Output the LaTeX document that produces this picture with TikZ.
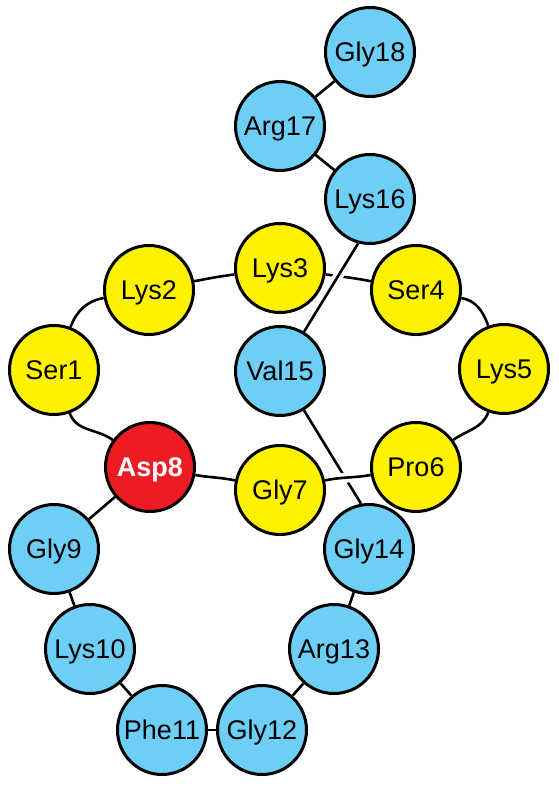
\documentclass[tikz,border=0pt]{standalone}
\usepackage{fontspec}
\setmainfont{Liberation Sans}
\usetikzlibrary{backgrounds}
\definecolor{aacyan}{HTML}{6DCFF6}
\definecolor{aayellow}{HTML}{FFF200}
\definecolor{aared}{HTML}{ED1C24}
\begin{document}
\begin{tikzpicture}[x=1pt,y=1pt,
  res/.style={circle, draw=black, line width=3pt, minimum size=89pt, inner sep=0pt,
    font=\fontsize{27}{27}\selectfont, text height=19.5pt, text depth=0pt},
  bl/.style={res, fill=aacyan},
  yl/.style={res, fill=aayellow},
  rd/.style={res, fill=aared, text=white, font=\fontsize{27}{27}\selectfont\bfseries},
  link/.style={line width=2.6pt, draw=black},
  halo/.style={preaction={draw=white, line width=10pt}}
]
\useasboundingbox (0,0) rectangle (558,-797);
% residues
\node[bl] (Gly18) at (370,-52)  {Gly18};
\node[bl] (Arg17) at (280,-126) {Arg17};
\node[bl] (Lys16) at (370,-199) {Lys16};
\node[yl] (Lys3)  at (280,-268) {Lys3};
\node[yl] (Lys2)  at (149,-290) {Lys2};
\node[yl] (Ser4)  at (416,-290) {Ser4};
\node[yl] (Ser1)  at (54,-370)  {Ser1};
\node[bl] (Val15) at (280,-371) {Val15};
\node[yl] (Lys5)  at (504,-369) {Lys5};
\node[rd] (Asp8)  at (150,-467) {Asp8};
\node[yl] (Pro6)  at (416,-467) {Pro6};
\node[yl] (Gly7)  at (280,-490) {Gly7};
\node[bl] (Gly9)  at (54,-549)  {Gly9};
\node[bl] (Gly14) at (369,-549) {Gly14};
\node[bl] (Lys10) at (90,-649)  {Lys10};
\node[bl] (Arg13) at (334,-649) {Arg13};
\node[bl] (Phe11) at (162,-730) {Phe11};
\node[bl] (Gly12) at (262,-730) {Gly12};
% connectors
\begin{scope}[on background layer]
\fill[white] (0,0) rectangle (558,-797);
\draw[link] (Val15) -- (Gly14.100);
\draw[link, halo] (Pro6) to[out=190, in=12] (Gly7);
\draw[link] (Lys3) to[out=-8, in=169] (Ser4);
\draw[link, halo] (Val15) -- (Lys16.255);
\draw[link] (Ser1) to[out=69, in=190] (Lys2);
\draw[link] (Lys2) to[out=11, in=188] (Lys3);
\draw[link] (Ser4) to[out=-10, in=110] (Lys5);
\draw[link] (Lys5) to[out=250, in=36] (Pro6);
\draw[link] (Gly7) to[out=168, in=-10] (Asp8);
\draw[link] (Asp8) to[out=144, in=290] (Ser1);
\draw[link] (Asp8) -- (Gly9);
\draw[link] (Gly9) -- (Lys10);
\draw[link] (Lys10) -- (Phe11);
\draw[link] (Phe11) -- (Gly12);
\draw[link] (Gly12) -- (Arg13);
\draw[link] (Arg13) -- (Gly14);
\draw[link] (Lys16) -- (Arg17);
\draw[link] (Arg17) -- (Gly18);
\end{scope}
\end{tikzpicture}
\end{document}
